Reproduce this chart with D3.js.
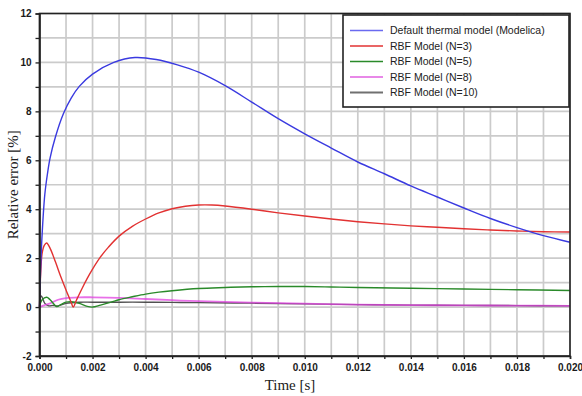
<!DOCTYPE html>
<html>
<head>
<meta charset="utf-8">
<script src="https://cdn.jsdelivr.net/npm/d3@7"></script>
<style>
  html, body { margin: 0; padding: 0; background: #fff; }
  svg { display: block; }
</style>
</head>
<body>
<div id="chart"></div>
<script>
// Relative error of the thermal models over time
const xTicks = [0, 0.002, 0.004, 0.006, 0.008, 0.010, 0.012, 0.014, 0.016, 0.018, 0.020];
const yTicks = [-2, 0, 2, 4, 6, 8, 10, 12];

const seriesNames = [
  "Default thermal model (Modelica)",
  "RBF Model (N=3)",
  "RBF Model (N=5)",
  "RBF Model (N=8)",
  "RBF Model (N=10)"
];
const seriesColors = ["#3a3ae0", "#e23232", "#2a8a2a", "#e040e0", "#505050"];
const legendColors = ["#6a6af0", "#e23232", "#2a8a2a", "#e060e0", "#707070"];

const modelicaTime = [0, 0.00004, 0.0001, 0.0002, 0.0003, 0.0004, 0.0006, 0.0009, 0.0012, 0.0015, 0.002, 0.0028, 0.0036, 0.0044, 0.0052, 0.006, 0.007, 0.008, 0.009, 0.010, 0.011, 0.012, 0.013, 0.014, 0.015, 0.016, 0.017, 0.018, 0.019, 0.020];
const modelicaErr  = [0, 1.5, 3.0, 4.6, 5.45, 6.1, 6.95, 7.9, 8.55, 9.02, 9.52, 10.0, 10.2, 10.12, 9.9, 9.6, 9.05, 8.38, 7.7, 7.08, 6.5, 5.93, 5.45, 4.95, 4.5, 4.05, 3.62, 3.25, 2.92, 2.65];

const n3Time = [0, 0.00005, 0.0001, 0.00018, 0.00027, 0.0004, 0.0006, 0.0008, 0.001, 0.0012, 0.00127, 0.0014, 0.0016, 0.0018, 0.002, 0.0023, 0.0026, 0.003, 0.0035, 0.004, 0.0045, 0.005, 0.0055, 0.006, 0.0065, 0.007, 0.008, 0.009, 0.010, 0.011, 0.012, 0.013, 0.014, 0.015, 0.016, 0.017, 0.018, 0.019, 0.020];
const n3Err  = [0, 1.5, 2.2, 2.52, 2.62, 2.4, 1.85, 1.25, 0.7, 0.18, 0.0, 0.3, 0.75, 1.17, 1.55, 2.05, 2.45, 2.9, 3.3, 3.6, 3.85, 4.02, 4.12, 4.17, 4.17, 4.13, 4.0, 3.85, 3.72, 3.6, 3.49, 3.4, 3.32, 3.26, 3.2, 3.15, 3.11, 3.08, 3.07];

const n5Time = [0, 0.0001, 0.00027, 0.0004, 0.00065, 0.0008, 0.001, 0.0012, 0.0015, 0.0018, 0.002, 0.0023, 0.0027, 0.003, 0.0035, 0.004, 0.0045, 0.005, 0.006, 0.007, 0.008, 0.009, 0.010, 0.011, 0.012, 0.014, 0.016, 0.018, 0.020];
const n5Err  = [0.05, 0.3, 0.4, 0.3, 0.02, 0.1, 0.2, 0.22, 0.15, 0.03, 0.0, 0.08, 0.2, 0.3, 0.42, 0.53, 0.61, 0.67, 0.76, 0.8, 0.83, 0.84, 0.84, 0.82, 0.8, 0.77, 0.74, 0.71, 0.68];

const n8Time = [0, 0.0002, 0.0004, 0.0007, 0.001, 0.0015, 0.002, 0.003, 0.004, 0.005, 0.006, 0.008, 0.010, 0.012, 0.014, 0.016, 0.018, 0.020];
const n8Err  = [0, 0.08, 0.15, 0.3, 0.37, 0.4, 0.4, 0.38, 0.33, 0.28, 0.24, 0.18, 0.14, 0.1, 0.08, 0.07, 0.06, 0.05];

const n10Time = [0, 0.00005, 0.0001, 0.0002, 0.00035, 0.0005, 0.0007, 0.001, 0.0015, 0.002, 0.003, 0.004, 0.005, 0.006, 0.008, 0.010, 0.012, 0.014, 0.016, 0.018, 0.020];
const n10Err  = [0, 0.45, 0.4, 0.15, 0.05, 0.07, 0.05, 0.15, 0.2, 0.2, 0.2, 0.2, 0.19, 0.18, 0.16, 0.13, 0.1, 0.08, 0.07, 0.06, 0.05];

const seriesTimes = [modelicaTime, n3Time, n5Time, n8Time, n10Time];
const seriesErrs  = [modelicaErr, n3Err, n5Err, n8Err, n10Err];
// drawing order: N=10 under N=8 so the overlap reads purple
const drawOrder = [4, 3, 2, 1, 0];

const W = 582, H = 396;
const m = { left: 39.5, right: 12, top: 13.5, bottom: 40 };

const svg = d3.select("#chart").append("svg")
  .attr("width", W).attr("height", H);

const x = d3.scaleLinear().domain([0, 0.020]).range([m.left, W - m.right]);
const y = d3.scaleLinear().domain([-2, 12]).range([H - m.bottom, m.top]);

// grid
const xGrid = d3.range(0, 21).map(i => i * 0.001);
const yGrid = d3.range(-2, 13);
const grid = svg.append("g").attr("stroke", "#cbcbcb").attr("stroke-width", 1.7);
grid.selectAll("line.v").data(xGrid).join("line")
  .attr("x1", d => x(d)).attr("x2", d => x(d))
  .attr("y1", y(-2)).attr("y2", y(12));
grid.selectAll("line.h").data(yGrid).join("line")
  .attr("x1", x(0)).attr("x2", x(0.020))
  .attr("y1", d => y(d)).attr("y2", d => y(d));

// series
const line = d3.line().curve(d3.curveCatmullRom.alpha(0.5));
const plot = svg.append("g");
drawOrder.forEach(i => {
  const pts = seriesTimes[i].map((t, k) => [x(t), y(seriesErrs[i][k])]);
  plot.append("path")
    .attr("d", line(pts))
    .attr("fill", "none")
    .attr("stroke", seriesColors[i])
    .attr("stroke-width", i === 3 ? 1.8 : 1.4)
    .attr("stroke-opacity", i === 3 ? 0.75 : 1)
    .attr("stroke-linejoin", "round");
});

// frame
svg.append("rect")
  .attr("x", x(0)).attr("y", y(12))
  .attr("width", x(0.020) - x(0)).attr("height", y(-2) - y(12))
  .attr("fill", "none").attr("stroke", "#222").attr("stroke-width", 1.6);

// axes
const xAxis = d3.axisBottom(x)
  .tickValues(xGrid).tickSize(3)
  .tickFormat(d => xTicks.some(v => Math.abs(v - d) < 1e-9) ? d3.format(".3f")(d) : "");
const yAxis = d3.axisLeft(y)
  .tickValues(yGrid).tickSize(4)
  .tickFormat(d => yTicks.includes(d) ? d : "");

const gx = svg.append("g").attr("transform", `translate(0,${y(-2)})`).call(xAxis);
const gy = svg.append("g").attr("transform", `translate(${x(0)},0)`).call(yAxis);
[gx, gy].forEach(g => {
  g.select(".domain").attr("stroke", "#222").attr("stroke-width", 1.6);
  g.selectAll(".tick line").attr("stroke", "#222").attr("stroke-width", 1.3);
  g.selectAll(".tick text")
    .attr("fill", "#1a1a1a")
    .style("font-family", "'Liberation Sans', Arial, sans-serif")
    .style("font-size", "10px")
    .style("font-weight", "600");
});
gx.selectAll(".tick text").attr("dy", "0.9em");
gy.selectAll(".tick text").attr("dx", "-1");

// axis titles
svg.append("text")
  .attr("x", 290).attr("y", 390)
  .attr("text-anchor", "middle")
  .style("font-family", "'Liberation Serif', 'Times New Roman', serif")
  .style("font-size", "15px").attr("fill", "#222")
  .text("Time [s]");
svg.append("text")
  .attr("transform", `translate(18,${(y(-2) + y(12)) / 2}) rotate(-90)`)
  .attr("text-anchor", "middle")
  .style("font-family", "'Liberation Serif', 'Times New Roman', serif")
  .style("font-size", "15px").attr("fill", "#222")
  .text("Relative error [%]");

// legend
const lg = svg.append("g");
lg.append("rect")
  .attr("x", 343).attr("y", 15).attr("width", 226).attr("height", 92)
  .attr("fill", "#fff").attr("stroke", "#222").attr("stroke-width", 1.6);
seriesNames.forEach((name, i) => {
  const cy = 30.5 + i * 15.5;
  lg.append("line")
    .attr("x1", 350).attr("x2", 383).attr("y1", cy).attr("y2", cy)
    .attr("stroke", legendColors[i]).attr("stroke-width", i === 4 ? 2.2 : 1.6);
  lg.append("text")
    .attr("x", 390).attr("y", cy).attr("dy", "0.35em")
    .style("font-family", "'Liberation Sans', Arial, sans-serif")
    .style("font-size", "10.5px").attr("fill", "#222")
    .text(name);
});
</script>
</body>
</html>
